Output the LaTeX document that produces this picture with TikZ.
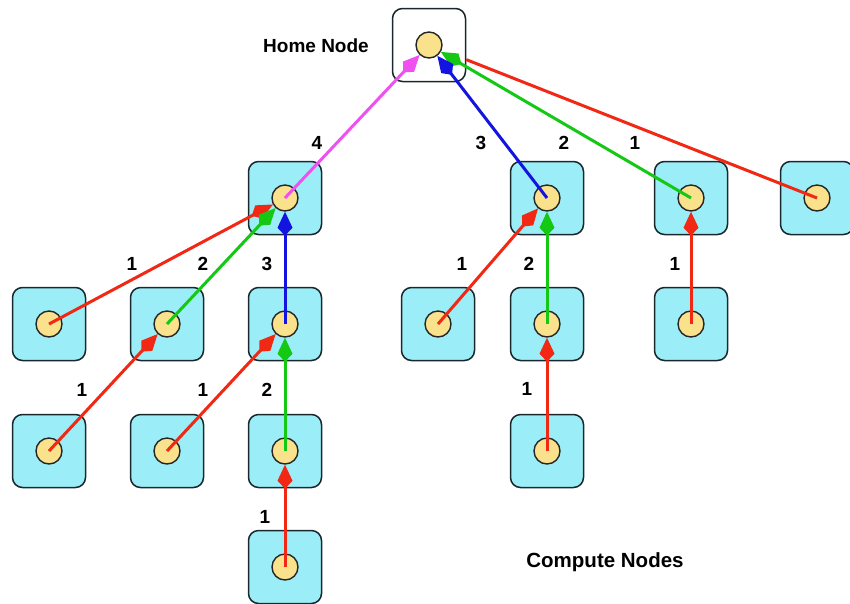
\documentclass[tikz,border=0pt]{standalone}
\usepackage{fontspec}
\setmainfont{Liberation Sans}
\usetikzlibrary{arrows.meta}
\definecolor{boxfill}{RGB}{155,238,248}
\definecolor{boxborder}{RGB}{25,40,45}
\definecolor{dotfill}{RGB}{250,225,140}
\definecolor{cred}{RGB}{240,40,20}
\definecolor{cgreen}{RGB}{20,200,20}
\definecolor{cblue}{RGB}{20,20,225}
\definecolor{cmag}{RGB}{240,80,240}
\tikzset{
  cbox/.style={draw=boxborder, fill=boxfill, rounded corners=10pt, minimum size=73pt, line width=1.5pt, inner sep=0pt},
  hbox/.style={cbox, fill=white},
  dot/.style={circle, draw=black!85, fill=dotfill, minimum size=26pt, inner sep=0pt, line width=1.4pt},
  lnk/.style={line width=3pt, -{Kite[length=24pt,width=15pt,inset=8pt]}},
  lbl/.style={font=\bfseries\fontsize{19}{21}\selectfont, inner sep=0pt}
}
\newcommand\cnode[4][cbox]{\node[#1] (#2b) at (#3,#4) {}; \node[dot] (#2) at (#3,#4) {};}
\begin{document}
\begin{tikzpicture}[x=1pt,y=-1pt]
\useasboundingbox (0,0) rectangle (850,603);
% nodes
\cnode[hbox]{h}{429}{45}
\cnode{a1}{285}{198}
\cnode{b1}{547}{198}
\cnode{c1}{691}{198}
\cnode{d1}{817}{198}
\cnode{a2}{49}{324}
\cnode{b2}{167}{324}
\cnode{c2}{285}{324}
\cnode{d2}{438}{324}
\cnode{e2}{547}{324}
\cnode{f2}{691}{324}
\cnode{a3}{49}{451}
\cnode{b3}{167}{451}
\cnode{c3}{285}{451}
\cnode{d3}{547}{451}
\cnode{a4}{285}{567}
% links
\draw[cred, line width=3pt] (d1.center) -- (hb);
\draw[lnk, cgreen] (c1.center) -- (h);
\draw[lnk, cblue] (b1.center) -- (h);
\draw[lnk, cmag] (a1.center) -- (h);
\draw[lnk, cred] (a2.center) -- (a1);
\draw[lnk, cgreen] (b2.center) -- (a1);
\draw[lnk, cblue] (c2.center) -- (a1);
\draw[lnk, cred] (d2.center) -- (b1);
\draw[lnk, cgreen] (e2.center) -- (b1);
\draw[lnk, cred] (f2.center) -- (c1);
\draw[lnk, cred] (a3.center) -- (b2);
\draw[lnk, cred] (b3.center) -- (c2);
\draw[lnk, cgreen] (c3.center) -- (c2);
\draw[lnk, cred] (d3.center) -- (e2);
\draw[lnk, cred] (a4.center) -- (c3);
% labels
\node[lbl] (thome) at (316,46) {Home Node};
\node[lbl, font=\bfseries\fontsize{20.5}{22}\selectfont] (tcomp) at (605,562) {Compute Nodes};
\node[lbl] (l1) at (317,143) {4};
\node[lbl] (l2) at (481,143) {3};
\node[lbl] (l3) at (564,143) {2};
\node[lbl] (l4) at (635,143) {1};
\node[lbl] (l5) at (132,264) {1};
\node[lbl] (l6) at (203,264) {2};
\node[lbl] (l7) at (267,264) {3};
\node[lbl] (l8) at (462,264) {1};
\node[lbl] (l9) at (529,264) {2};
\node[lbl] (l10) at (675,264) {1};
\node[lbl] (l11) at (82,390) {1};
\node[lbl] (l12) at (203,390) {1};
\node[lbl] (l13) at (267,390) {2};
\node[lbl] (l14) at (527,389) {1};
\node[lbl] (l15) at (265,517) {1};
\end{tikzpicture}
\end{document}
